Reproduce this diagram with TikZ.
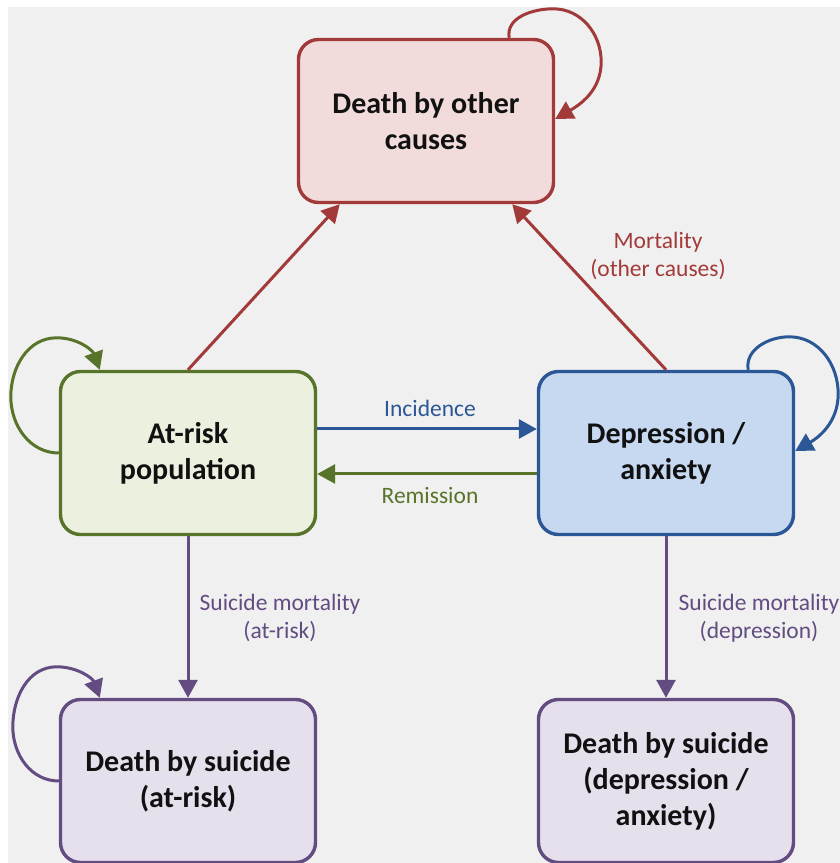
\documentclass[tikz,border=0pt]{standalone}
\usepackage{fontspec}
\setmainfont{Carlito}
\usetikzlibrary{arrows.meta,calc}
\definecolor{bgc}{HTML}{F0F0F0}
\definecolor{redl}{HTML}{A33A3A}
\definecolor{redf}{HTML}{F2DCDB}
\definecolor{grnl}{HTML}{58742B}
\definecolor{grnf}{HTML}{EBF1DE}
\definecolor{blul}{HTML}{2B5797}
\definecolor{bluf}{HTML}{C6D9F1}
\definecolor{purl}{HTML}{634C82}
\definecolor{purf}{HTML}{E5E0EC}
\definecolor{txt}{HTML}{111111}
\tikzset{
  x=1pt,y=1pt,
  box/.style={draw, line width=3.4pt, rounded corners=20pt, minimum width=255pt, minimum height=163pt,
    align=center, text=txt, font=\fontsize{30}{36}\selectfont\bfseries, inner sep=0pt},
  conn/.style={line width=3pt, -{Triangle[length=18pt,width=19pt]}},
  lbl/.style={align=center, font=\fontsize{23.5}{28}\selectfont, inner sep=0pt}
}
\begin{document}
\begin{tikzpicture}
\useasboundingbox (0,0) rectangle (840,863);
\fill[white] (0,0) rectangle (840,863);
\fill[bgc] (8,0) rectangle (840,856);
% boxes
\node[box, draw=redl, fill=redf] (dt) at (426,742) {Death by other\\causes};
\node[box, draw=grnl, fill=grnf] (ar) at (188,410) {At-risk\\population};
\node[box, draw=blul, fill=bluf] (dep) at (666,410) {Depression /\\anxiety};
\node[box, draw=purl, fill=purf] (sa) at (188,82) {Death by suicide\\(at-risk)};
\node[box, draw=purl, fill=purf] (sd) at (666,82) {Death by suicide\\(depression /\\anxiety)};
% straight connectors
\draw[conn, redl] (ar.north) -- ($(dt.south west)+(43,0)$);
\draw[conn, redl] (dep.north) -- ($(dt.south east)+(-43,0)$);
\draw[conn, blul] ($(ar.east)+(0,24)$) -- ($(dep.west)+(0,24)$);
\draw[conn, grnl] ($(dep.west)+(0,-21)$) -- ($(ar.east)+(0,-21)$);
\draw[conn, purl] (ar.south) -- (sa.north);
\draw[conn, purl] (dep.south) -- (sd.north);
% self loops
\draw[conn, redl] ($(dt.north east)+(-46,0)$) to[out=100,in=180] ($(dt.north east)+(-2,29)$)
  to[out=0,in=90] ($(dt.north east)+(46,-24)$) to[out=-90,in=30] ($(dt.east)+(0,2)$);
\draw[conn, blul] ($(dep.north east)+(-47,0)$) to[out=100,in=180] ($(dep.north east)+(-6,33)$)
  to[out=0,in=90] ($(dep.north east)+(43,-24)$) to[out=-90,in=30] ($(dep.east)+(0,2)$);
\draw[conn, grnl] (ar.west) to[out=180,in=-90] ($(ar.north west)+(-48,-27)$)
  to[out=90,in=180] ($(ar.north west)+(-2,32)$) to[out=0,in=110] ($(ar.north west)+(41,0)$);
\draw[conn, purl] (sa.west) to[out=180,in=-90] ($(sa.north west)+(-46,-29)$)
  to[out=90,in=180] ($(sa.north west)+(-2,31)$) to[out=0,in=110] ($(sa.north west)+(41,0)$);
% labels
\node[lbl, text=blul] (linc) at (430,455) {Incidence};
\node[lbl, text=grnl] (lrem) at (430,367) {Remission};
\node[lbl, text=redl] (lmort) at (658,607) {Mortality\\(other causes)};
\node[lbl, text=purl] (lsa) at (280,245) {Suicide mortality\\(at-risk)};
\node[lbl, text=purl] (lsd) at (759,245) {Suicide mortality\\(depression)};
\end{tikzpicture}
\end{document}
